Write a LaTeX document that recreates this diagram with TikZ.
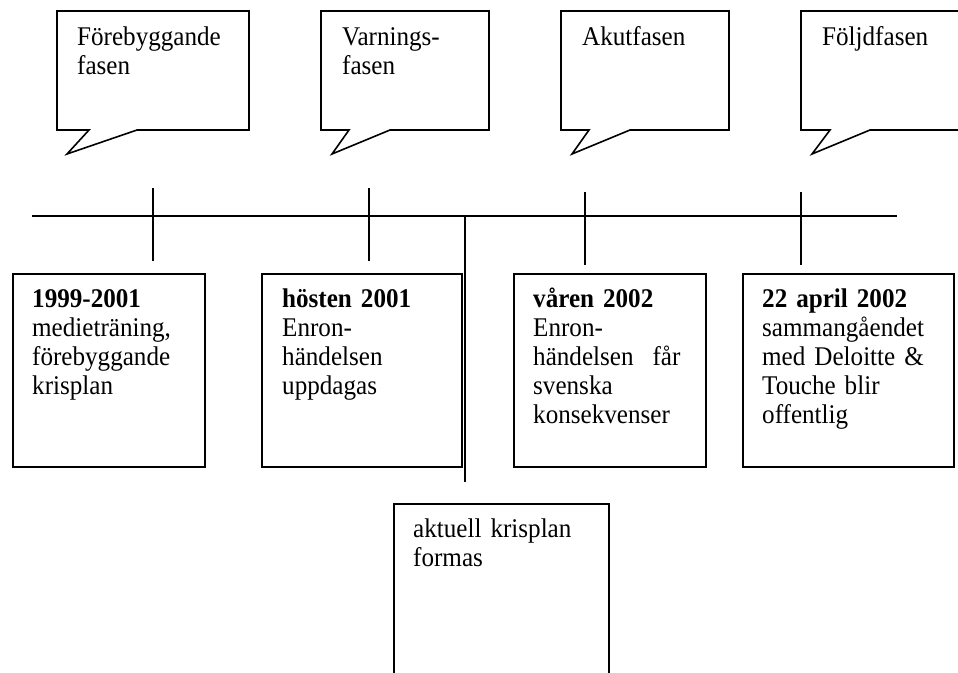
\documentclass[tikz,border=0pt]{standalone}
\usepackage{fontspec}
\setmainfont{Liberation Serif}[FakeStretch=0.93]
\begin{document}
\begin{tikzpicture}[x=1pt,y=-1pt,
  line/.style={line width=1.6pt},
  frame/.style={draw,line width=1.6pt,minimum width=#1,inner sep=0pt,anchor=north west},
  label/.style={anchor=base west,inner sep=0pt,text width=200pt,align=left,
    font=\fontsize{27}{29}\selectfont},
  phase/.style={label}]
\useasboundingbox (0,0) rectangle (958,672);

% speech bubbles for the four phases
\draw[line,line join=miter] (57,11) -- (249,11) -- (249,130) -- (137,130) -- (67,154) -- (89,130) -- (57,130) -- cycle;
\draw[line,line join=miter] (321,11) -- (489,11) -- (489,130) -- (390,130) -- (332,154) -- (349,130) -- (321,130) -- cycle;
\draw[line,line join=miter] (561,11) -- (729,11) -- (729,130) -- (630,130) -- (572,154) -- (589,130) -- (561,130) -- cycle;
\draw[line,line join=miter] (801,11) -- (970,11) -- (970,130) -- (870,130) -- (812,154) -- (830,130) -- (801,130) -- cycle;
\node[phase] (p1) at (77,45) {Förebyggande\\fasen};
\node[phase] (p2) at (342,45) {Varnings-\\fasen};
\node[phase] (p3) at (582,45) {Akutfasen};
\node[phase] (p4) at (822,45) {Följdfasen};

% timeline with tick marks
\coordinate (tlA) at (32,216);
\coordinate (tlB) at (897,216);
\draw[line] (tlA) -- (tlB);
\coordinate (t1a) at (153,188); \coordinate (t1b) at (153,261);
\coordinate (t2a) at (369,188); \coordinate (t2b) at (369,261);
\coordinate (t3a) at (585,192); \coordinate (t3b) at (585,265);
\coordinate (t4a) at (801,192); \coordinate (t4b) at (801,265);
\coordinate (t5a) at (465,216); \coordinate (t5b) at (465,482);
\draw[line] (t1a) -- (t1b);
\draw[line] (t2a) -- (t2b);
\draw[line] (t3a) -- (t3b);
\draw[line] (t4a) -- (t4b);
\draw[line] (t5a) -- (t5b);

% event boxes
\node[frame=192pt,minimum height=193pt] (b1) at (12,273) {};
\node[frame=200pt,minimum height=193pt] (b2) at (261,273) {};
\node[frame=192pt,minimum height=193pt] (b3) at (513,273) {};
\node[frame=211pt,minimum height=193pt] (b4) at (742,273) {};
\node[frame=215pt,minimum height=190pt] (b5) at (393,503) {};

\node[label] (e1) at ([xshift=20pt,yshift=-34pt]b1.north west)
  {\textbf{1999-2001}\\medieträning,\\förebyggande\\krisplan};
\node[label] (e2) at ([xshift=21pt,yshift=-34pt]b2.north west)
  {\textbf{hösten 2001}\\Enron-\\händelsen\\uppdagas};
\node[label] (e3) at ([xshift=20pt,yshift=-34pt]b3.north west)
  {\textbf{våren 2002}\\Enron-\\händelsen\hspace{10pt} får\\svenska\\konsekvenser};
\node[label] (e4) at ([xshift=20pt,yshift=-34pt]b4.north west)
  {\textbf{22 april 2002}\\sammangåendet\\med Deloitte \&\\Touche blir\\offentlig};
\node[label] (e5) at ([xshift=20pt,yshift=-34pt]b5.north west)
  {aktuell krisplan\\formas};
\end{tikzpicture}
\end{document}
